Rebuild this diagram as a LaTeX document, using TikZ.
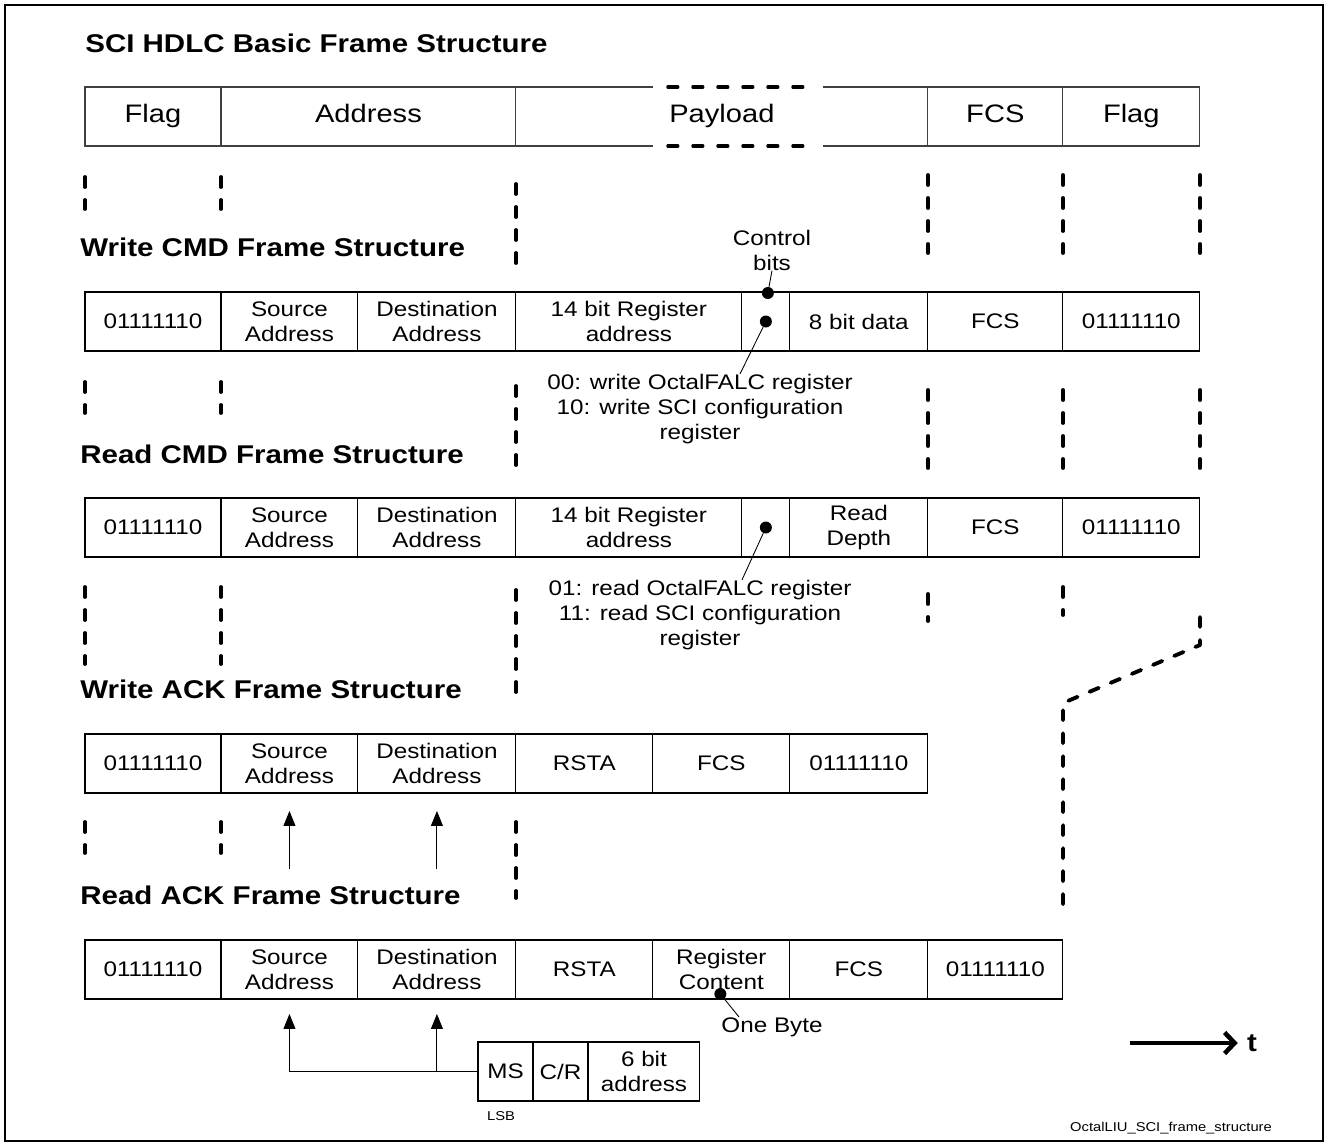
\documentclass[tikz,border=0pt]{standalone}
\usepackage{fontspec}
\setmainfont{Liberation Sans}[FakeStretch=1.15]
\usetikzlibrary{arrows.meta, positioning, calc}

\begin{document}
\begin{tikzpicture}[x=0.02cm, y=-0.02cm, >={Triangle[length=0.3cm, width=0.24cm]},
    field/.style={draw, line width=0.6pt, minimum height=1.18cm, inner sep=0pt, outer sep=0pt,
      align=center, font=\fontsize{12}{14.2}\selectfont},
    bigfield/.style={field, draw=black!75, text height=0.9em, text depth=0.18em,
      font=\fontsize{14.4}{17}\selectfont},
    heading/.style={anchor=west, inner sep=0pt, font=\fontsize{14.6}{17}\selectfont\bfseries},
    note/.style={align=center, inner sep=0pt, font=\fontsize{12}{14.2}\selectfont},
    tiny/.style={inner sep=0pt, font=\fontsize{7.3}{9}\selectfont},
    guide/.style={line width=2.2pt, dash pattern=on 0.2cm off 0.26cm, line cap=round},
    spot/.style={circle, fill, inner sep=0pt, minimum size=0.24cm}]

  \useasboundingbox (0,0) rectangle (1329,1147);
  \draw[line width=0.8pt] (5,5) rectangle (1323,1141);

  % basic frame
  \node[heading] (title) at (85,43) {SCI HDLC Basic Frame Structure};
  \node[bigfield, anchor=north west, minimum width=2.72cm] (b1) at (85,87) {Flag};
  \node[bigfield, right=0pt of b1, minimum width=5.90cm] (b2) {Address};
  \node[bigfield, draw=none, right=0pt of b2, minimum width=8.24cm] (b3) {Payload};
  \node[bigfield, right=0pt of b3, minimum width=2.70cm] (b4) {FCS};
  \node[bigfield, right=0pt of b4, minimum width=2.74cm] (b5) {Flag};
  \draw[line width=0.6pt, black!75] (b3.north west) -- ++(137,0) (b3.north east) -- ++(-105,0)
    (b3.south west) -- ++(137,0) (b3.south east) -- ++(-105,0);
  \draw[guide, line width=1.8pt, dash pattern=on 0.2cm off 0.3cm]
    ($(b3.north)+(-54,0)$) -- ($(b3.north)+(86,0)$)
    ($(b3.south)+(-54,0)$) -- ($(b3.south)+(86,0)$);

  \draw[guide] (85,177) -- (85,209) (221,177) -- (221,209) (516,184) -- (516,268)
    (928,175) -- (928,253) (1063,175) -- (1063,253) (1200,175) -- (1200,253);

  % write command
  \node[heading] (hwc) at (80,247) {Write CMD Frame Structure};
  \node[field, anchor=north west, minimum width=2.72cm] (wc1) at (85,292) {01111110};
  \node[field, right=0pt of wc1, minimum width=2.74cm] (wc2) {Source\\Address};
  \node[field, right=0pt of wc2, minimum width=3.16cm] (wc3) {Destination\\Address};
  \node[field, right=0pt of wc3, minimum width=4.52cm] (wc4) {14 bit Register\\address};
  \node[field, right=0pt of wc4, minimum width=0.96cm] (wc5) {};
  \node[field, right=0pt of wc5, minimum width=2.76cm] (wc6) {8 bit data};
  \node[field, right=0pt of wc6, minimum width=2.70cm] (wc7) {FCS};
  \node[field, right=0pt of wc7, minimum width=2.74cm] (wc8) {01111110};

  \node[note] (ctrl) at (772,250) {Control\\bits};
  \node[spot] (cb1) at ($(wc5.north)+(2,1)$) {};
  \node[spot] (cb2) at (wc5.center) {};
  \draw[line width=0.5pt] (cb1) -- (ctrl.south);
  \node[note] (wnote) at (700,409) {00: write OctalFALC register\\10: write SCI configuration\\register};
  \draw[line width=0.5pt] (cb2) -- ([xshift=0.8cm]wnote.north);

  \draw[guide] (85,382) -- (85,413) (221,382) -- (221,413) (516,386) -- (516,465)
    (928,390) -- (928,468) (1063,390) -- (1063,468) (1200,390) -- (1200,468);

  % read command
  \node[heading] (hrc) at (80,454) {Read CMD Frame Structure};
  \node[field, anchor=north west, minimum width=2.72cm] (rc1) at (85,498) {01111110};
  \node[field, right=0pt of rc1, minimum width=2.74cm] (rc2) {Source\\Address};
  \node[field, right=0pt of rc2, minimum width=3.16cm] (rc3) {Destination\\Address};
  \node[field, right=0pt of rc3, minimum width=4.52cm] (rc4) {14 bit Register\\address};
  \node[field, right=0pt of rc4, minimum width=0.96cm] (rc5) {};
  \node[field, right=0pt of rc5, minimum width=2.76cm] (rc6) {Read\\Depth};
  \node[field, right=0pt of rc6, minimum width=2.70cm] (rc7) {FCS};
  \node[field, right=0pt of rc7, minimum width=2.74cm] (rc8) {01111110};

  \node[spot] (cb3) at (rc5.center) {};
  \node[note] (rnote) at (700,615) {01: read OctalFALC register\\11: read SCI configuration\\register};
  \draw[line width=0.5pt] (cb3) -- ([xshift=0.84cm]rnote.north);

  \draw[guide] (85,587) -- (85,664) (221,587) -- (221,664) (516,590) -- (516,700)
    (928,594) -- (928,621) (1063,587) -- (1063,615);
  \draw[guide, line join=round] (1200,617) -- (1200,645) -- (1063,703) -- (1063,913);

  % write acknowledge
  \node[heading] (hwa) at (80,689) {Write ACK Frame Structure};
  \node[field, anchor=north west, minimum width=2.72cm] (wa1) at (85,734) {01111110};
  \node[field, right=0pt of wa1, minimum width=2.74cm] (wa2) {Source\\Address};
  \node[field, right=0pt of wa2, minimum width=3.16cm] (wa3) {Destination\\Address};
  \node[field, right=0pt of wa3, minimum width=2.74cm] (wa4) {RSTA};
  \node[field, right=0pt of wa4, minimum width=2.74cm] (wa5) {FCS};
  \node[field, right=0pt of wa5, minimum width=2.76cm] (wa6) {01111110};

  \draw[->, line width=0.5pt] ([yshift=-1.52cm]wa2.south) -- ([yshift=-0.36cm]wa2.south);
  \draw[->, line width=0.5pt] ([yshift=-1.52cm]wa3.south) -- ([yshift=-0.36cm]wa3.south);

  \draw[guide] (85,822) -- (85,853) (221,822) -- (221,853) (516,822) -- (516,898);

  % read acknowledge
  \node[heading] (hra) at (80,895) {Read ACK Frame Structure};
  \node[field, anchor=north west, minimum width=2.72cm] (ra1) at (85,940) {01111110};
  \node[field, right=0pt of ra1, minimum width=2.74cm] (ra2) {Source\\Address};
  \node[field, right=0pt of ra2, minimum width=3.16cm] (ra3) {Destination\\Address};
  \node[field, right=0pt of ra3, minimum width=2.74cm] (ra4) {RSTA};
  \node[field, right=0pt of ra4, minimum width=2.74cm] (ra5) {Register\\Content};
  \node[field, right=0pt of ra5, minimum width=2.76cm] (ra6) {FCS};
  \node[field, right=0pt of ra6, minimum width=2.70cm] (ra7) {01111110};

  \node[spot] (bdot) at ($(ra5.south)+(-1,-5)$) {};
  \node[note] (onebyte) at (772,1027) {One Byte};
  \draw[line width=0.5pt] (bdot) -- ([xshift=0.36cm]onebyte.north west);

  % address byte
  \node[field, anchor=north west, minimum width=1.10cm] (ab1) at (478,1042) {MS};
  \node[field, right=0pt of ab1, minimum width=1.10cm] (ab2) {C/R};
  \node[field, right=0pt of ab2, minimum width=2.24cm] (ab3) {6 bit\\address};
  \node[tiny] (lsb) at (501,1116) {LSB};
  \draw[->, line width=0.5pt] (ab1.west) -| ([yshift=-0.3cm]ra2.south);
  \draw[->, line width=0.5pt] (ab1.west -| ra3.south) -- ([yshift=-0.3cm]ra3.south);

  % time axis
  \node[inner sep=0pt, font=\fontsize{14.6}{17}\selectfont\bfseries] (tlab) at (1252,1043) {t};
  \coordinate (tstart) at (1130,1043);
  \draw[-{Straight Barb[length=0.2cm, width=0.42cm]}, line width=2.6pt] (tstart) -- ([xshift=-0.18cm]tlab.west);
  \node[tiny] (fname) at (1171,1128) {OctalLIU\_SCI\_frame\_structure};
\end{tikzpicture}
\end{document}
